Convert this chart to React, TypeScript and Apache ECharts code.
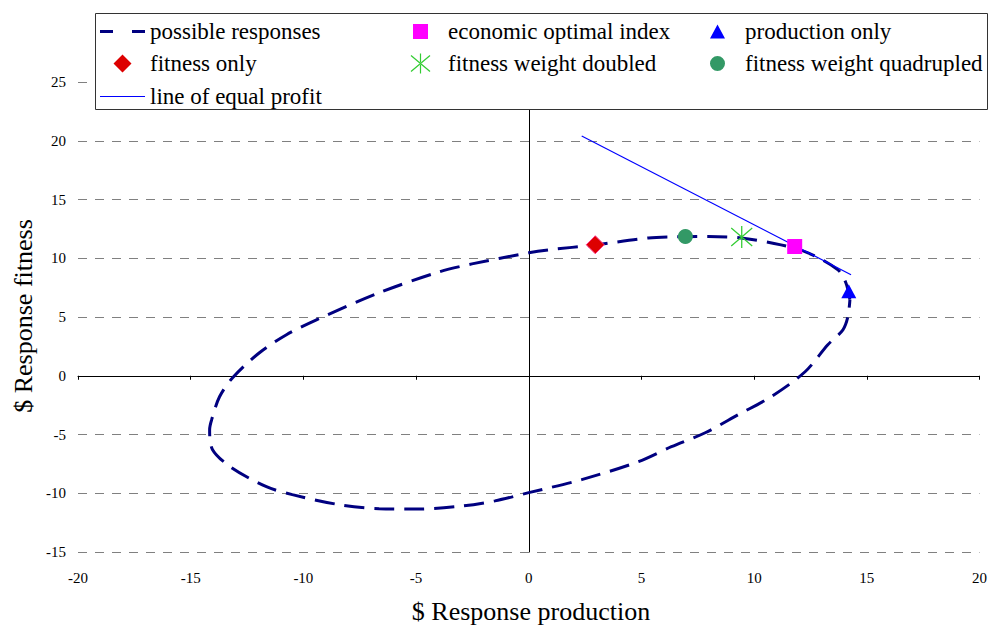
import React, { useEffect, useRef } from "react";
import * as echarts from "echarts";

// possible responses curve (closed)
const curveX = [14.25, 14.07, 13.72, 12.39, 11.19, 9.42, 7.96, 6.6, 5.31, 2.96, 0.88, 0, -2.52, -3.98, -6.64, -9.42, -10.75, -11.95, -13.14, -13.72, -14.07, -14.16, -14.03, -13.19, -11.64, -10.49, -8.41, -6.64, -5.0, -3.0, -1.5, 0, 2.35, 4.87, 6.33, 7.83, 9.29, 10.75, 12.26, 13.27, 13.94, 14.16, 14.25];
const curveY = [6.46, 7.91, 9.01, 10.46, 11.14, 11.73, 11.85, 11.83, 11.73, 11.14, 10.71, 10.46, 9.52, 8.84, 7.06, 4.76, 3.49, 1.96, -0.17, -1.79, -3.74, -4.59, -6.29, -7.82, -9.44, -10.12, -10.97, -11.31, -11.35, -11.1, -10.65, -9.95, -8.84, -7.31, -6.04, -4.85, -3.32, -1.79, 0.34, 2.64, 3.91, 5.02, 6.46];

const economicOptimal = [11.8, 11.0];
const productionOnly = [14.2, 7.2];
const fitnessOnly = [2.95, 11.15];
const fitnessDoubled = [9.45, 11.8];
const fitnessQuadrupled = [6.95, 11.85];
const equalProfitX = [2.35, 14.3];
const equalProfitY = [20.4, 8.6];

const xTicks = { min: -20, max: 20, interval: 5 };
const yTicks = { min: -15, max: 25, interval: 5 };

const FONT = "Liberation Serif";

// legend icon paths, each in a 45x22 box (anchors keep the box size)
const A0 = "M0,0h0.01v0.01z";
const A1 = "M44.99,21.99h0.01v0.01z";
const icons: Record<string, string> = {
  "possible responses": `path://${A0}M0,9.5h13v3h-13zM32,9.5h13v3h-13z${A1}`,
  "line of equal profit": `path://${A0}M0,10.4h45v1.2h-45z${A1}`,
  "economic optimal index": `path://${A0}M15,3.5h15v15h-15z${A1}`,
  "fitness only": `path://${A0}M22.5,2L31.5,11L22.5,20L13.5,11Z${A1}`,
  "production only": `path://${A0}M22.5,4L30,18L15,18Z${A1}`,
  "fitness weight quadrupled": `path://${A0}M15,11a7.5,7.5 0 1,0 15,0a7.5,7.5 0 1,0 -15,0z${A1}`,
  "fitness weight doubled": `path://${A0}M21.9,1h1.2v20h-1.2zM12.6,3.5L13.4,2.5L32.4,18.5L31.6,19.5ZM12.6,18.5L13.4,19.5L32.4,3.5L31.6,2.5Z${A1}`,
};
const legendColors: Record<string, string> = {
  "possible responses": "#000080",
  "line of equal profit": "#0000FF",
  "economic optimal index": "#FF00FF",
  "fitness only": "#DD0000",
  "production only": "#0000FF",
  "fitness weight quadrupled": "#339966",
  "fitness weight doubled": "#33CC33",
};

export default function App() {
  const ref = useRef<HTMLDivElement>(null);
  useEffect(() => {
    if (!ref.current) return;
    const chart = echarts.init(ref.current, undefined, { renderer: "svg" });

    const legendItem = (name: string, left: number, center: number) => ({
      data: [{ name, icon: icons[name] }],
      left,
      top: center - 11,
      padding: 0,
      itemWidth: 45,
      itemHeight: 22,
      selectedMode: false,
      z: 20,
      itemStyle: { color: legendColors[name], borderWidth: 0 },
      textStyle: { fontFamily: FONT, fontSize: 23, color: "#000" },
    });

    chart.setOption({
      animation: false,
      textStyle: { fontFamily: FONT },
      grid: { left: 78, right: 8, top: 82, bottom: 74 },
      xAxis: [
        {
          type: "value",
          ...xTicks,
          position: "bottom",
          axisLine: { show: false, onZero: false },
          axisTick: { show: false },
          splitLine: { show: false },
          axisLabel: { fontFamily: FONT, fontSize: 15, color: "#000", margin: 18 },
        },
        {
          type: "value",
          ...xTicks,
          position: "bottom",
          axisLine: { show: true, onZero: true, lineStyle: { color: "#000", width: 1 } },
          axisTick: { show: true, length: 4, lineStyle: { color: "#000" } },
          splitLine: { show: false },
          axisLabel: { show: false },
        },
      ],
      yAxis: [
        {
          type: "value",
          ...yTicks,
          position: "left",
          axisLine: { show: false, onZero: false },
          axisTick: { show: false },
          splitLine: { show: true, lineStyle: { color: "#808080", type: [9, 8], width: 1 } },
          axisLabel: { fontFamily: FONT, fontSize: 15, color: "#000", margin: 12 },
        },
        {
          type: "value",
          ...yTicks,
          position: "left",
          axisLine: { show: true, onZero: true, lineStyle: { color: "#000", width: 1 } },
          axisTick: { show: false },
          splitLine: { show: false },
          axisLabel: { show: false },
        },
      ],
      legend: [
        legendItem("possible responses", 100, 31),
        legendItem("fitness only", 100, 63),
        legendItem("line of equal profit", 100, 96),
        legendItem("economic optimal index", 398, 31),
        legendItem("fitness weight doubled", 398, 63),
        legendItem("production only", 695, 31),
        legendItem("fitness weight quadrupled", 695, 63),
      ],
      graphic: [
        {
          type: "rect",
          z: 15,
          shape: { x: 95.5, y: 13.5, width: 892, height: 96 },
          style: { fill: "#fff", stroke: "#333", lineWidth: 1 },
        },
        {
          type: "text",
          z: 20,
          x: 531,
          y: 611,
          style: {
            text: "$ Response production",
            font: `26px ${FONT}`,
            fill: "#000",
            align: "center",
            verticalAlign: "middle",
          },
        },
        {
          type: "text",
          z: 20,
          x: 23,
          y: 316,
          rotation: Math.PI / 2,
          style: {
            text: "$ Response fitness",
            font: `26px ${FONT}`,
            fill: "#000",
            align: "center",
            verticalAlign: "middle",
          },
        },
      ],
      series: [
        {
          name: "possible responses",
          type: "line",
          data: curveX.map((x, i) => [x, curveY[i]]),
          smooth: 0.3,
          symbol: "none",
          lineStyle: { color: "#000080", width: 3, type: [20, 10] },
          itemStyle: { color: "#000080" },
          z: 2,
        },
        {
          name: "line of equal profit",
          type: "line",
          data: equalProfitX.map((x, i) => [x, equalProfitY[i]]),
          symbol: "none",
          lineStyle: { color: "#0000FF", width: 1.2 },
          itemStyle: { color: "#0000FF" },
          z: 3,
        },
        {
          name: "economic optimal index",
          type: "scatter",
          data: [economicOptimal],
          symbol: "rect",
          symbolSize: 15,
          itemStyle: { color: "#FF00FF", opacity: 1 },
          z: 4,
        },
        {
          name: "production only",
          type: "scatter",
          data: [productionOnly],
          symbol: "triangle",
          symbolSize: [15, 14],
          itemStyle: { color: "#0000FF", opacity: 1 },
          z: 4,
        },
        {
          name: "fitness only",
          type: "scatter",
          data: [fitnessOnly],
          symbol: "diamond",
          symbolSize: 18,
          itemStyle: { color: "#DD0000", borderColor: "#FF3388", borderWidth: 1, opacity: 1 },
          z: 4,
        },
        {
          name: "fitness weight doubled",
          type: "scatter",
          data: [fitnessDoubled],
          symbol: "path://M10,0L10,22M0,2L20,20M0,20L20,2",
          symbolSize: [21, 22],
          itemStyle: { color: "none", borderColor: "#33CC33", borderWidth: 1.3, opacity: 1 },
          z: 4,
        },
        {
          name: "fitness weight quadrupled",
          type: "scatter",
          data: [fitnessQuadrupled],
          symbol: "circle",
          symbolSize: 15,
          itemStyle: { color: "#339966", opacity: 1 },
          z: 4,
        },
      ],
    });
    return () => chart.dispose();
  }, []);
  return (
    <div
      ref={ref}
      style={{ position: "absolute", left: 0, top: 0, width: 990, height: 626, background: "#fff" }}
    />
  );
}
